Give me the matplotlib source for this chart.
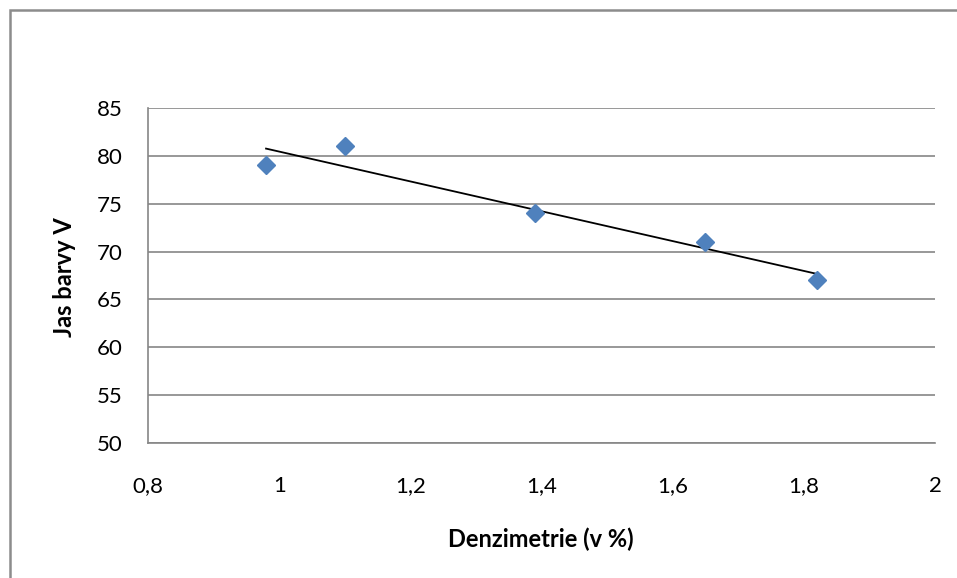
import numpy as np
import matplotlib
matplotlib.use("Agg")
import matplotlib.pyplot as plt
from matplotlib.patches import Rectangle
from matplotlib.ticker import FuncFormatter, MultipleLocator

# Data
denzimetrie = [0.98, 1.10, 1.39, 1.65, 1.82]
jas_barvy = [79, 81, 74, 71, 67]

plt.rcParams['font.family'] = ['Lato', 'DejaVu Sans']

W, H = 957, 578
fig = plt.figure(figsize=(W/100, H/100), dpi=100)

# outer chart border (Excel-style)
fig.patches.append(Rectangle((10/W, -0.01), 1.0, (H-10)/H + 0.01, transform=fig.transFigure,
                             fill=False, edgecolor='#8c8c8c', linewidth=1.8))

ax = fig.add_axes([148/W, 1-443/H, (935-148)/W, (443-108)/H])

ax.set_xlim(0.8, 2.0)
ax.set_ylim(50, 85)
ax.xaxis.set_major_locator(MultipleLocator(0.2))
ax.yaxis.set_major_locator(MultipleLocator(5))

def fmt(v, pos):
    s = f"{v:.1f}".rstrip('0').rstrip('.')
    return s.replace('.', ',')
ax.xaxis.set_major_formatter(FuncFormatter(fmt))
ax.yaxis.set_major_formatter(FuncFormatter(lambda v, p: f"{v:.0f}"))

ax.grid(axis='y', color='#868686', linewidth=1.2)
ax.set_axisbelow(True)
for s in ax.spines.values():
    s.set_color('#868686')
    s.set_linewidth(1.2)
ax.spines['right'].set_visible(False)
ax.spines['top'].set_visible(False)

ax.tick_params(length=0, labelsize=16, colors='black')
ax.tick_params(axis='x', pad=24)
ax.tick_params(axis='y', pad=18)

# trend line (linear fit)
coef = np.polyfit(denzimetrie, jas_barvy, 1)
xs = np.array([min(denzimetrie), max(denzimetrie)])
ax.plot(xs, np.polyval(coef, xs), color='black', linewidth=1.3, zorder=3)

ax.plot(denzimetrie, jas_barvy, linestyle='none', marker='D', markersize=9.5,
        color='#4F81BD', markeredgecolor='#4F81BD', zorder=4, clip_on=False)

fig.text(541/W, 1-547/H, 'Denzimetrie (v %)', ha='center', va='baseline',
         fontsize=17, fontweight='bold')
fig.text(65/W, 1-277/H, 'Jas barvy V', ha='center', va='center',
         fontsize=17, fontweight='bold', rotation=90)

fig.savefig('out.png', dpi=100)
